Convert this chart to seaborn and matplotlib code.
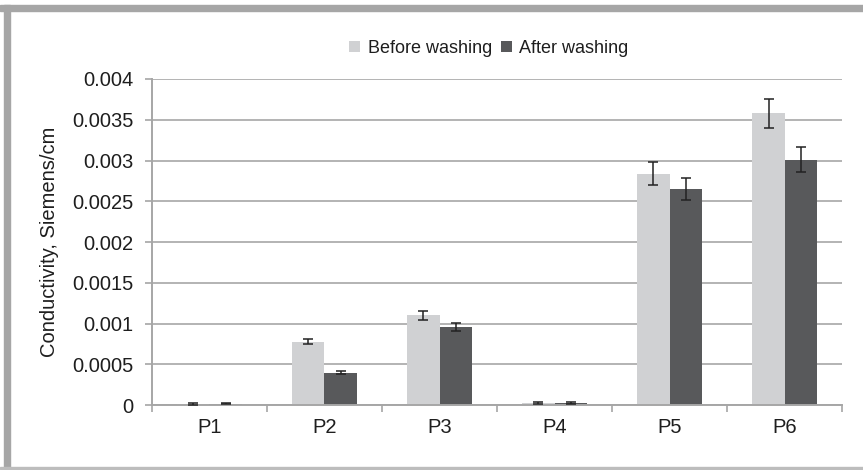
import numpy as np
import pandas as pd
import matplotlib
matplotlib.use("Agg")
import matplotlib.pyplot as plt
from matplotlib.patches import Rectangle
from matplotlib.ticker import FixedLocator, NullFormatter
import seaborn as sns

sns.set_style("white")
plt.rcParams["font.family"] = ["Liberation Sans", "DejaVu Sans"]

# data
samples = ["P1", "P2", "P3", "P4", "P5", "P6"]
before = [0.000015, 0.00078, 0.0011, 0.000025, 0.00284, 0.00358]
after = [0.000018, 0.0004, 0.00096, 0.000028, 0.00265, 0.00301]
before_err = [0.000008, 0.00003, 0.00005, 0.000008, 0.00014, 0.00018]
after_err = [0.000008, 0.00002, 0.00005, 0.000008, 0.00013, 0.00015]
series = ["Before washing", "After washing"]
colors = ["#d0d1d3", "#58595b"]

df = pd.DataFrame({
    "sample": samples * 2,
    "value": before + after,
    "err": before_err + after_err,
    "series": [series[0]] * 6 + [series[1]] * 6,
})

fig = plt.figure(figsize=(8.63, 4.70), dpi=100)
ax = fig.add_axes([0.176, 0.138, 0.800, 0.694])

sns.barplot(data=df, x="sample", y="value", hue="series", palette=colors,
            width=0.565, gap=0, errorbar=None, saturation=1, ax=ax,
            edgecolor="none")

# error bars on each bar
for cont, errs in zip(ax.containers, [before_err, after_err]):
    xs = [p.get_x() + p.get_width() / 2 for p in cont.patches]
    ys = [p.get_height() for p in cont.patches]
    ax.errorbar(xs, ys, yerr=errs, fmt="none", ecolor="#222222",
                elinewidth=1.1, capsize=3.5, capthick=1.1, zorder=5)

ax.set_ylim(0, 0.004)
ax.set_xlim(-0.5, 5.5)
ax.set_yticks(np.arange(0, 0.00401, 0.0005))
ax.set_yticklabels(["0", "0.0005", "0.001", "0.0015", "0.002", "0.0025",
                    "0.003", "0.0035", "0.004"])
ax.yaxis.grid(True, color="#b3b3b3", linewidth=1.4)
ax.set_axisbelow(True)

ax.xaxis.set_minor_locator(FixedLocator(np.arange(-0.5, 6, 1)))
ax.xaxis.set_minor_formatter(NullFormatter())
ax.tick_params(axis="x", which="major", length=0, pad=9, labelsize=14.5,
               labelcolor="#1e1e1e")
ax.tick_params(axis="x", which="minor", length=5, width=1.2, color="#a6a6a6",
               direction="out", bottom=True)
ax.tick_params(axis="y", length=5, width=1.2, color="#a6a6a6", direction="out",
               left=True, labelsize=14.5, labelcolor="#1e1e1e", pad=8)

for side in ["top", "right"]:
    ax.spines[side].set_visible(False)
for side in ["left", "bottom"]:
    ax.spines[side].set_color("#a6a6a6")
    ax.spines[side].set_linewidth(1.4)

ax.set_xlabel("")
ax.set_ylabel("Conductivity, Siemens/cm", fontsize=14.5, color="#1e1e1e", labelpad=10)

leg = ax.legend(loc="upper center", bbox_to_anchor=(0.488, 1.17), ncol=2,
                frameon=False, fontsize=13, handlelength=0.6, handleheight=0.6,
                handletextpad=0.4, columnspacing=0.5)
for t in leg.get_texts():
    t.set_color("#1e1e1e")

# outer frame like the source picture
fig.patches.append(Rectangle((0, 1 - 11 / 470), 1, 6 / 470, transform=fig.transFigure,
                             color="#a6a6a6", zorder=0))
fig.patches.append(Rectangle((4 / 863, 0), 5.5 / 863, 1 - 5 / 470, transform=fig.transFigure,
                             color="#a6a6a6", zorder=0))
fig.patches.append(Rectangle((0, 1 / 470), 1, 2 / 470, transform=fig.transFigure,
                             color="#bdbdbd", zorder=0))

fig.savefig("out.png", dpi=100)
